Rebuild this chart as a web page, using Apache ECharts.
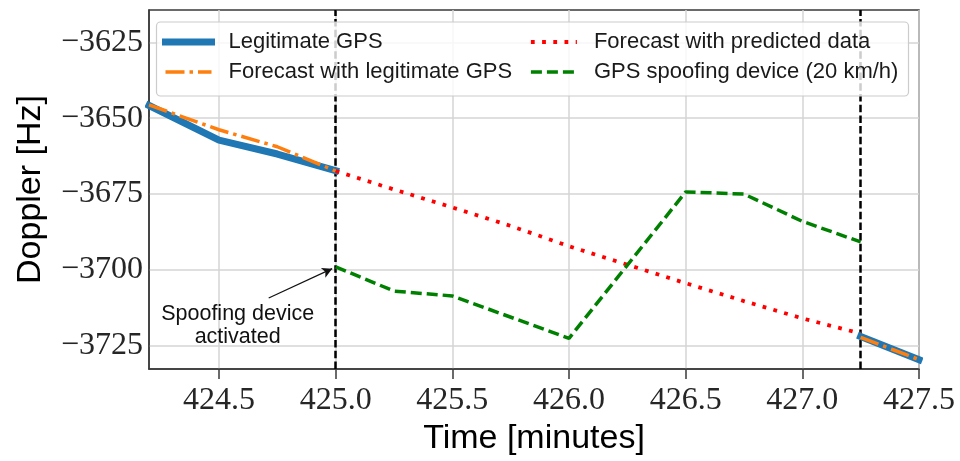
<!DOCTYPE html>
<html>
<head>
<meta charset="utf-8">
<script src="https://cdn.jsdelivr.net/npm/echarts@6/dist/echarts.min.js"></script>
<style>html,body{margin:0;padding:0;background:#fff}#c{width:960px;height:461px}</style>
</head>
<body>
<div id="c"></div>
<script>
// ---- data ----
const xTicks = [424.5, 425.0, 425.5, 426.0, 426.5, 427.0, 427.5];
const yTicks = [-3725, -3700, -3675, -3650, -3625];

const legitTimesA = [424.2, 424.5, 424.75, 425.0];
const legitValuesA = [-3645.8, -3657.2, -3661.8, -3667.3];
const legitTimesB = [427.25, 427.5];
const legitValuesB = [-3722.0, -3729.6];

const fcLegitTimesA = [424.2, 424.5, 424.75, 425.0];
const fcLegitValuesA = [-3645.6, -3653.8, -3659.4, -3667.4];
const fcLegitTimesB = [427.25, 427.5];
const fcLegitValuesB = [-3722.3, -3729.6];

const predTimes = [425.0, 425.25, 425.5, 425.75, 426.0, 426.25, 426.5, 426.75, 427.0, 427.25];
const predValues = [-3667.4, -3673.5, -3679.4, -3685.5, -3692.2, -3698.3, -3704.4, -3710.3, -3716.0, -3721.0];

const spoofTimes = [425.0, 425.25, 425.5, 426.0, 426.5, 426.75, 427.0, 427.25];
const spoofValues = [-3699.0, -3707.0, -3708.6, -3722.6, -3674.3, -3675.0, -3684.0, -3690.8];

const eventTimes = [425.0, 427.25];

const names = ['Legitimate GPS', 'Forecast with legitimate GPS', 'Forecast with predicted data', 'GPS spoofing device (20 km/h)'];
const annotationText = 'Spoofing device\nactivated';

// ---- build ----
function pairs(xs, ys) { return xs.map((x, i) => [x, ys[i]]); }

const X_MIN = 424.2, X_MAX = 427.5, Y_MIN = -3732.7, Y_MAX = -3614.3;

const styles = {
  legit: { color: '#1f77b4', width: 7, type: 'solid', cap: 'square' },
  fc: { color: '#ff7f0e', width: 3.5, type: [19, 5, 3.5, 5] },
  pred: { color: '#ff0000', width: 3.8, type: [3.8, 7.4] },
  spoof: { color: '#008000', width: 3.5, type: [11, 5] }
};

function lineSeries(name, data, st, extra) {
  return Object.assign({
    name: name, type: 'line', data: data, symbol: 'none', showSymbol: false,
    lineStyle: Object.assign({}, st), itemStyle: { color: st.color }, color: st.color,
    animation: false, z: 3
  }, extra || {});
}

const chart = echarts.init(document.getElementById('c'), null, { renderer: 'canvas' });

const tickFont = { fontFamily: 'Liberation Serif', fontSize: 32, color: '#262626' };
const sansFont = 'Liberation Sans';

const legendText = { fontFamily: sansFont, fontSize: 22, color: '#1a1a1a', padding: [0, 0, 0, 12] };

function legendItem(name, st) {
  return {
    name: name,
    lineStyle: Object.assign({}, st),
    itemStyle: { color: 'rgba(0,0,0,0)', borderWidth: 0, borderColor: 'rgba(0,0,0,0)' }
  };
}

chart.setOption({
  animation: false,
  backgroundColor: '#fff',
  // legend frame (drawn as an empty title box so that it sits above the plotted lines)
  title: {
    text: ' ', left: 156, top: 22, z: 50,
    padding: [36.5, 376, 36.5, 376],
    textStyle: { fontSize: 1, lineHeight: 1 },
    backgroundColor: 'rgba(255,255,255,0.8)', borderColor: '#cccccc', borderWidth: 1.2, borderRadius: 4
  },
  grid: { left: 149, top: 10, right: 41, bottom: 92, show: true, borderColor: '#3a3a3a', borderWidth: 1.5, backgroundColor: 'transparent', containLabel: false, outerBoundsMode: 'none' },
  xAxis: {
    type: 'value', min: X_MIN, max: X_MAX,
    name: 'Time [minutes]', nameLocation: 'middle', nameGap: 48,
    nameTextStyle: { fontFamily: sansFont, fontSize: 34, color: '#000' },
    axisLine: { show: true, onZero: false, lineStyle: { color: '#3a3a3a', width: 1.5 } },
    axisTick: { show: true, length: 10, lineStyle: { color: '#3a3a3a', width: 1.5 }, customValues: xTicks },
    axisLabel: Object.assign({ margin: 16, customValues: xTicks, formatter: v => v.toFixed(1), showMinLabel: true, showMaxLabel: true }, tickFont),
    splitLine: { show: true, lineStyle: { color: '#d4d4d4', width: 1.5 } }
  },
  yAxis: {
    type: 'value', min: Y_MIN, max: Y_MAX,
    name: 'Doppler [Hz]', nameLocation: 'middle', nameGap: 101,
    nameTextStyle: { fontFamily: sansFont, fontSize: 34, color: '#000' },
    axisLine: { show: true, onZero: false, lineStyle: { color: '#3a3a3a', width: 1.5 } },
    axisTick: { show: false, customValues: yTicks },
    axisLabel: Object.assign({ margin: 6, customValues: yTicks, formatter: v => '\u2212' + Math.abs(v) }, tickFont),
    splitLine: { show: true, lineStyle: { color: '#d4d4d4', width: 1.5 } }
  },
  legend: [
    {
      left: 162, top: 31, orient: 'vertical', itemWidth: 46, itemHeight: 22, itemGap: 8, padding: 0, z: 110, selectedMode: false,
      data: [legendItem(names[0], styles.legit), legendItem(names[1], styles.fc)],
      textStyle: legendText
    },
    {
      left: 529, top: 31, orient: 'vertical', itemWidth: 46, itemHeight: 22, itemGap: 8, padding: 0, z: 110, selectedMode: false,
      data: [legendItem(names[2], styles.pred), legendItem(names[3], styles.spoof)],
      textStyle: legendText
    }
  ],
  series: [
    lineSeries(names[0], pairs(legitTimesA, legitValuesA), styles.legit),
    lineSeries(names[1], pairs(fcLegitTimesA, fcLegitValuesA), styles.fc),
    lineSeries(names[2], pairs(predTimes, predValues), styles.pred),
    lineSeries(names[3], pairs(spoofTimes, spoofValues), styles.spoof, {
      markLine: {
        silent: true, animation: false, symbol: 'none', label: { show: false }, z: 2,
        lineStyle: { color: '#000', width: 2.5, type: [7.5, 3.2] },
        data: eventTimes.map(t => ({ xAxis: t }))
      }
    }),
    lineSeries(names[0], pairs(legitTimesB, legitValuesB), styles.legit),
    lineSeries(names[1], pairs(fcLegitTimesB, fcLegitValuesB), styles.fc),
    {
      name: 'annotation', type: 'line', data: [], symbol: 'none',
      markLine: {
        silent: true, animation: false, label: { show: false }, symbolSize: [8, 10],
        lineStyle: { color: '#111', width: 1.2, type: 'solid' },
        data: [[
          { coord: [424.713, -3709.3], symbol: 'none' },
          { coord: [424.985, -3699.6], symbol: 'arrow' }
        ]]
      }
    }
  ]
});

// annotation text near the arrow tail
const p = chart.convertToPixel({ gridIndex: 0 }, [424.58, -3718.3]);
chart.setOption({
  graphic: [{
    type: 'text', x: p[0], y: p[1], z: 70,
    style: { text: annotationText, fontFamily: sansFont, fontSize: 21.5, lineHeight: 23, fill: '#111', align: 'center', verticalAlign: 'middle' }
  }]
});
</script>
</body>
</html>
